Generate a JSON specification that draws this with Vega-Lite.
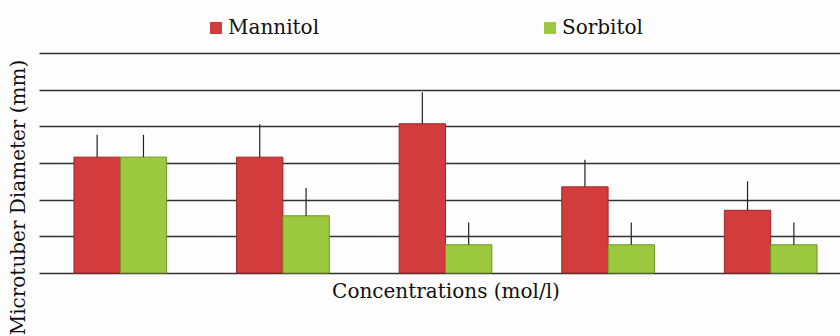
{
  "$schema": "https://vega.github.io/schema/vega-lite/v6.json",
  "width": 813,
  "height": 220,
  "autosize": {"type": "none"},
  "padding": {"left": 39, "top": 53, "right": 0, "bottom": 63},
  "background": "#fdfdfd",
  "config": {
    "view": {"stroke": null},
    "font": "DejaVu Serif"
  },
  "data": {
    "values": [
      {"conc": "0", "sugar": "Mannitol", "diameter": 3.16, "upper": 3.77},
      {"conc": "0", "sugar": "Sorbitol", "diameter": 3.16, "upper": 3.77},
      {"conc": "0.1", "sugar": "Mannitol", "diameter": 3.16, "upper": 4.06},
      {"conc": "0.1", "sugar": "Sorbitol", "diameter": 1.56, "upper": 2.32},
      {"conc": "0.2", "sugar": "Mannitol", "diameter": 4.07, "upper": 4.93},
      {"conc": "0.2", "sugar": "Sorbitol", "diameter": 0.77, "upper": 1.38},
      {"conc": "0.3", "sugar": "Mannitol", "diameter": 2.35, "upper": 3.09},
      {"conc": "0.3", "sugar": "Sorbitol", "diameter": 0.77, "upper": 1.38},
      {"conc": "0.4", "sugar": "Mannitol", "diameter": 1.71, "upper": 2.5},
      {"conc": "0.4", "sugar": "Sorbitol", "diameter": 0.77, "upper": 1.38}
    ]
  },
  "encoding": {
    "x": {
      "field": "conc",
      "type": "nominal",
      "sort": null,
      "scale": {"paddingInner": 0.43, "paddingOuter": 0.215},
      "axis": {
        "title": "Concentrations (mol/l)",
        "labels": false,
        "ticks": false,
        "domain": false,
        "titleFont": "DejaVu Serif",
        "titleFontSize": 20,
        "titleFontWeight": "normal",
        "titleColor": "#111",
        "titleY": 24,
        "titleBaseline": "alphabetic"
      }
    },
    "xOffset": {"field": "sugar", "type": "nominal", "sort": ["Mannitol", "Sorbitol"], "scale": {"paddingInner": 0, "paddingOuter": 0}},
    "y": {
      "field": "diameter",
      "type": "quantitative",
      "scale": {"domain": [0, 6], "nice": false},
      "axis": {
        "title": "Microtuber Diameter (mm)",
        "values": [0, 1, 2, 3, 4, 5, 6],
        "labels": false,
        "labelOverlap": false,
        "ticks": false,
        "domain": false,
        "grid": true,
        "gridColor": "#333333",
        "gridWidth": 1.6,
        "gridOpacity": 1,
        "titleFont": "DejaVu Serif",
        "titleFontSize": 20,
        "titleFontWeight": "normal",
        "titleColor": "#111",
        "titleAngle": 270,
        "titleAlign": "center",
        "titleBaseline": "middle",
        "titleX": -21,
        "titleY": 144
      }
    }
  },
  "layer": [
    {
      "mark": {"type": "bar", "strokeWidth": 1},
      "encoding": {
        "color": {
          "field": "sugar",
          "type": "nominal",
          "scale": {"domain": ["Mannitol", "Sorbitol"], "range": ["#d23c3c", "#9dc940"]},
          "legend": {
            "title": null,
            "orient": "none",
            "direction": "horizontal",
            "columns": 2,
            "legendX": 167,
            "legendY": -35,
            "padding": 0,
            "columnPadding": 220,
            "symbolType": "square",
            "symbolSize": 144,
            "symbolStrokeWidth": 0,
            "labelFont": "DejaVu Serif",
            "labelFontSize": 20,
            "labelColor": "#111",
            "labelOffset": 2
          }
        },
        "stroke": {
          "field": "sugar",
          "type": "nominal",
          "scale": {"domain": ["Mannitol", "Sorbitol"], "range": ["#9e2626", "#6f9426"]},
          "legend": null
        }
      }
    },
    {
      "mark": {"type": "rule", "color": "#222", "strokeWidth": 1.2},
      "encoding": {
        "y2": {"field": "upper"}
      }
    }
  ]
}
